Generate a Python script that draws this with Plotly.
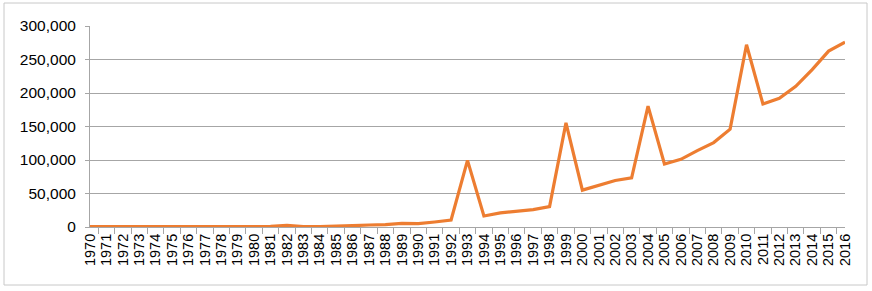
import plotly.graph_objects as go

years = [str(y) for y in range(1970, 2017)]
values = [
    500, 500, 400, 400, 400, 500, 500, 400, 400, 500, 500,   # 1970-1980
    800, 2500, 500, 600, 1000, 2000, 3000, 3500, 5500, 5000,  # 1981-1990
    7500, 10500, 99500, 16500, 21000, 24000, 26000, 30500, 155500, 55000,  # 1991-2000
    62000, 69500, 73500, 180500, 94000, 101000, 114000, 126000, 146000, 272000,  # 2001-2010
    183500, 192000, 210000, 235000, 262500, 276000,  # 2011-2016
]
y_ticks = [0, 50000, 100000, 150000, 200000, 250000, 300000]
y_ticklabels = ["0", "50,000", "100,000", "150,000", "200,000", "250,000", "300,000"]

fig = go.Figure()
fig.add_trace(go.Scatter(
    x=years, y=values, mode="lines",
    line=dict(color="#ED7D31", width=3.2),
    showlegend=False, hoverinfo="skip",
))

L, R, T, B = 90, 27, 26, 64
W, H = 872, 291
pw, ph = W - L - R, H - T - B

fig.update_layout(
    width=W, height=H,
    margin=dict(l=L, r=R, t=T, b=B, pad=0),
    paper_bgcolor="white", plot_bgcolor="white",
    font=dict(family="Liberation Sans, Arial, sans-serif", size=15, color="#000000"),
    xaxis=dict(
        type="category", tickangle=-90, tickson="boundaries",
        tickmode="linear", tick0=0, dtick=1,
        ticks="outside", ticklen=6, tickcolor="#a6a6a6",
        showline=True, linecolor="#a6a6a6", linewidth=1,
        showgrid=False, zeroline=False, automargin=False,
        tickfont=dict(size=14.5),
    ),
    yaxis=dict(
        range=[0, 300000], tickvals=y_ticks, ticktext=y_ticklabels,
        ticks="outside", ticklen=4, tickcolor="#a6a6a6",
        showline=True, linecolor="#a6a6a6", linewidth=1,
        showgrid=True, gridcolor="#a6a6a6", gridwidth=1,
        zeroline=False, automargin=False, ticklabelstandoff=6,
        tickfont=dict(size=15.5),
    ),
    shapes=[dict(
        type="rect", xref="paper", yref="paper",
        x0=(4 - L) / pw, x1=(867 - L) / pw,
        y0=(T + ph - 285) / ph, y1=(T + ph - 3) / ph,
        line=dict(color="#c8c8c8", width=1), fillcolor="rgba(0,0,0,0)",
        layer="below",
    )],
)

fig.write_html(
    "out.html",
    config={"displayModeBar": False, "staticPlot": True},
    post_script="document.body.style.margin='0';document.body.style.overflow='hidden';",
)
